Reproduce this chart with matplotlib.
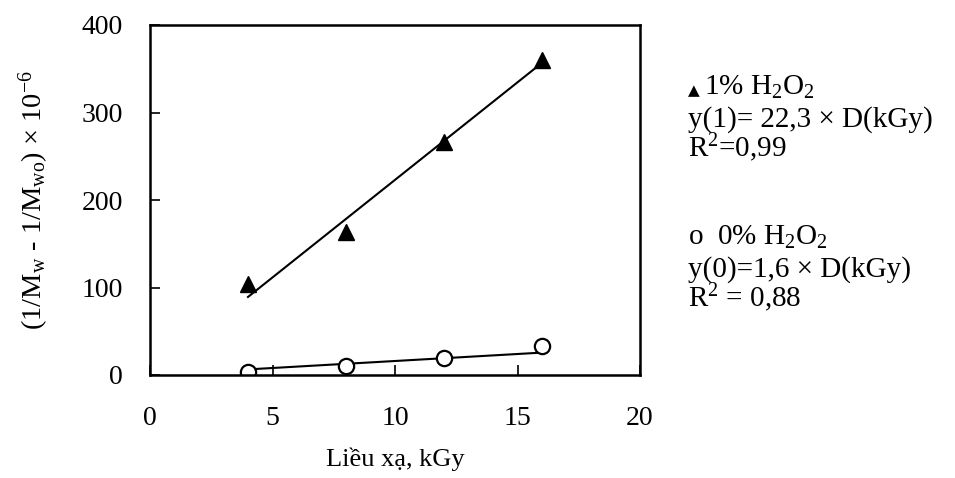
import matplotlib
matplotlib.use("Agg")
import matplotlib.pyplot as plt
import numpy as np

plt.rcParams['font.family'] = ['Liberation Serif', 'DejaVu Sans']
plt.rcParams['mathtext.fontset'] = 'custom'
plt.rcParams['mathtext.rm'] = 'Liberation Serif'
plt.rcParams['mathtext.it'] = 'Liberation Serif:italic'
plt.rcParams['mathtext.bf'] = 'Liberation Serif:bold'

# Data
dose = [4, 8, 12, 16]
h2o2_1pct = [104, 164, 266, 360]
h2o2_0pct = [4, 10, 20, 33]
fit_range = [4, 16]
slope_1pct = 22.3
slope_0pct = 1.6
xticks = [0, 5, 10, 15, 20]
yticks = [0, 100, 200, 300, 400]

fig = plt.figure(figsize=(9.55, 4.78), dpi=100)
ax = fig.add_axes([150/955, 1 - 375/478, 490/955, 350/478])

fx = np.array(fit_range, dtype=float)
ax.plot(fx, slope_1pct * fx, color='black', lw=1.5)
ax.plot(fx, slope_0pct * fx, color='black', lw=1.5)
ax.plot(dose, h2o2_1pct, linestyle='none', marker='^', ms=12, color='black')
ax.plot(dose, h2o2_0pct, linestyle='none', marker='o', ms=11,
        markerfacecolor='white', markeredgecolor='black', markeredgewidth=1.6)

ax.set_xlim(0, 20)
ax.set_ylim(0, 400)
ax.set_xticks(xticks)
ax.set_yticks(yticks)
ax.tick_params(direction='in', length=7, width=1.2, labelsize=20)
ax.tick_params(axis='y', pad=19.5)
ax.tick_params(axis='x', pad=22)
for s in ax.spines.values():
    s.set_linewidth(1.8)

ax.set_xlabel('Liều xạ, kGy', fontsize=19, labelpad=12)
ax.set_ylabel(r'(1/M$_{\mathrm{w}}$ - 1/M$_{\mathrm{wo}}$) × 10$^{-6}$', fontsize=20.5, labelpad=22)

tx = 688 / 955
fig.text(tx, 1 - 95/478, '▲', fontsize=11, va='baseline', ha='left',
         family='DejaVu Sans')
lines = [
    (704, 95, '1% H$_2$O$_2$'),
    (688, 127, 'y(1)= 22,3 × D(kGy)'),
    (688, 157, 'R$^2$=0,99'),
    (688, 245, 'o  0% H$_2$O$_2$'),
    (688, 277, 'y(0)=1,6 × D(kGy)'),
    (688, 307, 'R$^2$ = 0,88'),
]
for xpx, ypx, t in lines:
    fig.text(xpx/955, 1 - ypx/478, t, fontsize=21, va='baseline', ha='left')

fig.savefig('out.png', dpi=100)
